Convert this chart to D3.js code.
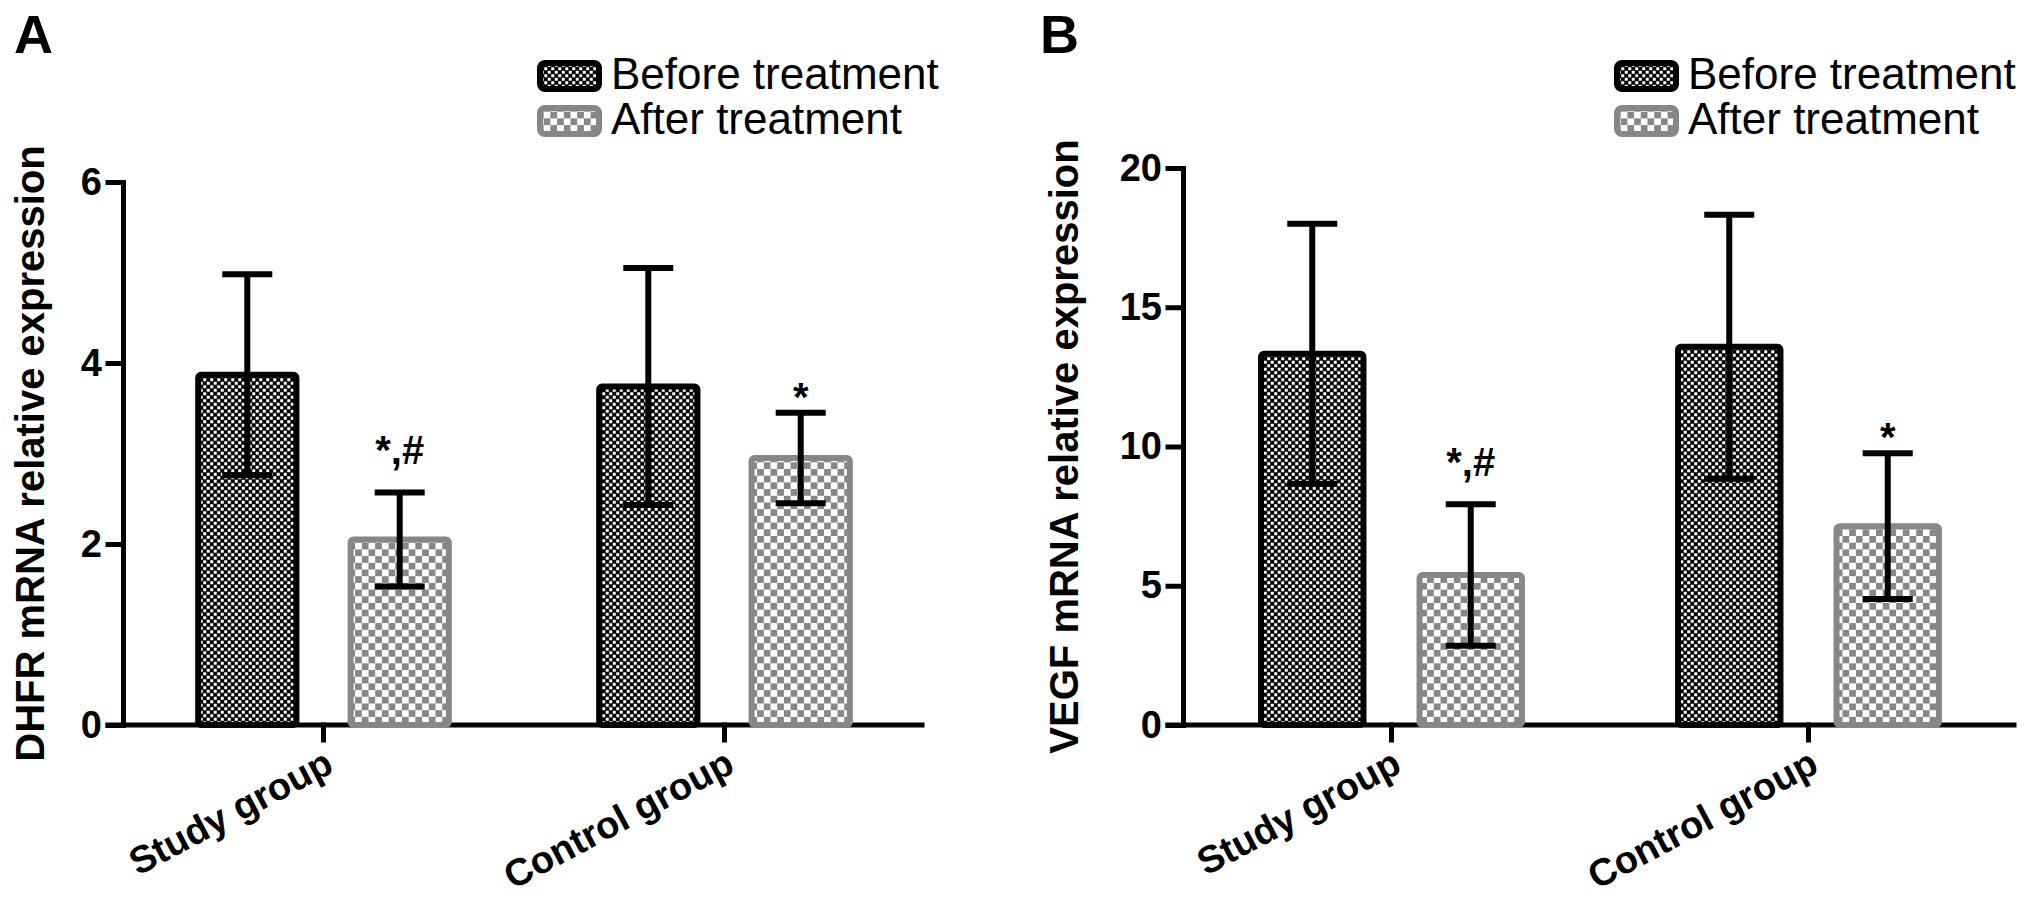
<!DOCTYPE html>
<html>
<head>
<meta charset="utf-8">
<script src="https://cdn.jsdelivr.net/npm/d3@7/dist/d3.min.js"></script>
<style>
  body { margin: 0; background: #fff; }
  svg { display: block; font-family: 'Liberation Sans', Arial, sans-serif; }
</style>
</head>
<body>
<div id="chart"></div>
<script>
// ---- data ----
const groups = ['Study group', 'Control group'];
const seriesNames = ['Before treatment', 'After treatment'];

const dhfrBefore   = [3.87, 3.74];
const dhfrBeforeSd = [1.11, 1.31];
const dhfrAfter    = [2.05, 2.95];
const dhfrAfterSd  = [0.52, 0.50];
const dhfrTicks    = [0, 2, 4, 6];

const vegfBefore   = [13.33, 13.58];
const vegfBeforeSd = [4.67, 4.74];
const vegfAfter    = [5.39, 7.14];
const vegfAfterSd  = [2.54, 2.62];
const vegfTicks    = [0, 5, 10, 15, 20];

const afterMarks = ['*,#', '*'];

const W = 2031, H = 913;
const GRAY = '#878787';
const FONT = "'Liberation Sans', Arial, sans-serif";

const svg = d3.select('#chart').append('svg')
  .attr('width', W).attr('height', H)
  .attr('viewBox', `0 0 ${W} ${H}`);

const defs = svg.append('defs');
// two-cell checkerboard: dark background, light squares on the diagonal
function checker(id, cell, sq, dark, light) {
  const p = defs.append('pattern').attr('id', id)
    .attr('patternUnits', 'userSpaceOnUse')
    .attr('width', cell * 2).attr('height', cell * 2);
  p.append('rect').attr('width', cell * 2).attr('height', cell * 2).attr('fill', dark);
  const o = (cell - sq) / 2;
  p.append('rect').attr('x', o).attr('y', o).attr('width', sq).attr('height', sq).attr('fill', light);
  p.append('rect').attr('x', cell + o).attr('y', cell + o).attr('width', sq).attr('height', sq).attr('fill', light);
}
checker('fine', 3.5, 3, '#000', '#fff');
checker('coarse', 6.7, 6.7, GRAY, '#fff');

const fills   = ['url(#fine)', 'url(#coarse)'];
const strokes = ['#000', GRAY];

function drawPanel(cfg) {
  const g = svg.append('g');
  const baseY = 725;

  const y = d3.scaleLinear().domain([0, cfg.yMax]).range([baseY, cfg.yTop]);
  const x = d3.scaleBand().domain(groups).range([cfg.x0, cfg.x1]).padding(0);
  const step = x.step();
  const inner = d3.scaleBand().domain(seriesNames)
    .range([-0.32 * step, 0.32 * step]).paddingInner(0.316);

  // y axis
  const yAxis = g.append('g').attr('transform', `translate(${cfg.x0},0)`)
    .call(d3.axisLeft(y).tickValues(cfg.ticks).tickFormat(d3.format('d'))
      .tickSize(15).tickSizeOuter(0).tickPadding(6));
  yAxis.selectAll('text').attr('font-size', 38).attr('font-weight', 'bold')
    .attr('font-family', FONT).attr('fill', '#000');

  // x axis
  const xAxis = g.append('g').attr('transform', `translate(0,${baseY})`)
    .call(d3.axisBottom(x).tickSize(15).tickSizeOuter(0));
  xAxis.select('.domain').attr('d', `M${cfg.x0 - 15},0H${cfg.x1 - 3}`);
  xAxis.selectAll('text')
    .attr('y', 0).attr('dy', null)
    .attr('text-anchor', 'end')
    .attr('transform', 'translate(12,46) rotate(-28)')
    .attr('font-size', 38).attr('font-weight', 'bold')
    .attr('font-family', FONT).attr('fill', '#000');

  [yAxis, xAxis].forEach((a) => {
    a.selectAll('.domain, line').attr('stroke', '#000').attr('stroke-width', 5)
      .attr('stroke-linecap', 'square');
  });

  // bars
  const rows = [];
  groups.forEach((grp, i) => {
    seriesNames.forEach((s, j) => {
      const v = j === 0 ? cfg.before[i] : cfg.after[i];
      const sd = j === 0 ? cfg.beforeSd[i] : cfg.afterSd[i];
      rows.push({ grp, s, j, v, sd, cx: x(grp) + step / 2 + inner(s) + inner.bandwidth() / 2,
        mark: j === 1 ? afterMarks[i] : null });
    });
  });

  const bw = inner.bandwidth();
  g.selectAll('rect.bar').data(rows).enter().append('rect').attr('class', 'bar')
    .attr('x', (d) => d.cx - bw / 2 + 3)
    .attr('width', bw - 6)
    .attr('y', (d) => y(d.v))
    .attr('height', (d) => y(0) - y(d.v))
    .attr('rx', 3)
    .attr('fill', (d) => fills[d.j])
    .attr('stroke', (d) => strokes[d.j])
    .attr('stroke-width', 6);

  // error bars (mean ± SD)
  const eb = g.selectAll('g.err').data(rows).enter().append('g').attr('class', 'err')
    .attr('stroke', '#000').attr('stroke-width', 6);
  eb.append('line')
    .attr('x1', (d) => d.cx).attr('x2', (d) => d.cx)
    .attr('y1', (d) => y(d.v - d.sd)).attr('y2', (d) => y(d.v + d.sd));
  eb.append('line')
    .attr('x1', (d) => d.cx - 25).attr('x2', (d) => d.cx + 25)
    .attr('y1', (d) => y(d.v + d.sd)).attr('y2', (d) => y(d.v + d.sd));
  eb.append('line')
    .attr('x1', (d) => d.cx - 25).attr('x2', (d) => d.cx + 25)
    .attr('y1', (d) => y(d.v - d.sd)).attr('y2', (d) => y(d.v - d.sd));

  // significance marks
  g.selectAll('text.mark').data(rows.filter((d) => d.mark)).enter().append('text')
    .attr('class', 'mark')
    .attr('x', (d) => d.cx)
    .attr('y', (d) => y(d.v + d.sd) - (d.mark.includes('#') ? 28 : 2))
    .attr('text-anchor', 'middle')
    .attr('font-size', 40).attr('font-weight', 'bold')
    .text((d) => d.mark);

  // y title
  g.append('text')
    .attr('transform', `translate(${cfg.titleX},${(baseY + cfg.yTop) / 2}) rotate(-90)`)
    .attr('text-anchor', 'middle').attr('font-size', 40).attr('font-weight', 'bold')
    .text(cfg.title);

  // panel letter
  g.append('text').attr('x', cfg.letterX).attr('y', 53)
    .attr('font-size', 54).attr('font-weight', 'bold').text(cfg.letter);

  // legend
  const lg = g.selectAll('g.leg').data(seriesNames).enter().append('g').attr('class', 'leg')
    .attr('transform', (d, i) => `translate(${cfg.legendX},${60 + i * 45})`);
  lg.append('rect').attr('x', 3).attr('y', 3).attr('width', 59).attr('height', 26).attr('rx', 5)
    .attr('fill', (d, i) => fills[i]).attr('stroke', (d, i) => strokes[i]).attr('stroke-width', 6);
  lg.append('text').attr('x', 74).attr('y', 29).attr('font-size', 44).text((d) => d);
}

drawPanel({
  letter: 'A', letterX: 14,
  x0: 123, x1: 925, yTop: 182, yMax: 6, ticks: dhfrTicks,
  before: dhfrBefore, beforeSd: dhfrBeforeSd, after: dhfrAfter, afterSd: dhfrAfterSd,
  title: 'DHFR mRNA relative expression', titleX: 44,
  legendX: 537
});

drawPanel({
  letter: 'B', letterX: 1040,
  x0: 1183, x1: 2017, yTop: 168, yMax: 20, ticks: vegfTicks,
  before: vegfBefore, beforeSd: vegfBeforeSd, after: vegfAfter, afterSd: vegfAfterSd,
  title: 'VEGF mRNA relative expression', titleX: 1078,
  legendX: 1614
});
</script>
</body>
</html>
